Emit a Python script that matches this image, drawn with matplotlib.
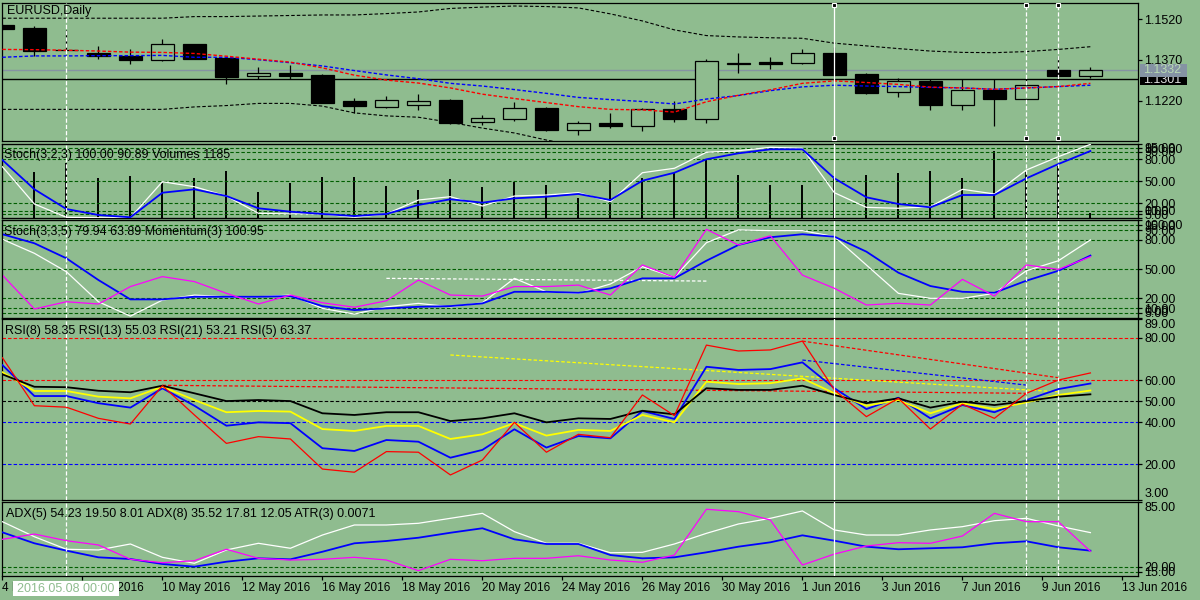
import numpy as np
import matplotlib
matplotlib.use("Agg")
import matplotlib.pyplot as plt
from matplotlib.patches import Rectangle

plt.rcParams['font.family'] = ['Liberation Sans', 'DejaVu Sans']
plt.rcParams['lines.scale_dashes'] = False

BG = '#8fbc8f'
W, H = 1200, 600
DASH = (0, (2.5, 1.5))

# ---- EURUSD daily candles ----
opens = [1.1499, 1.1488, 1.1407, 1.1396, 1.1385, 1.1371, 1.1429, 1.1378, 1.1310, 1.1322,
         1.1315, 1.1219, 1.1198, 1.1205, 1.1223, 1.1140, 1.1151, 1.1193, 1.1111, 1.1138,
         1.1128, 1.1188, 1.1153, 1.1355, 1.1362, 1.1358, 1.1396, 1.1318, 1.1251, 1.1293,
         1.1205, 1.1259, 1.1225, 1.1333, 1.1312]
highs = [1.1503, 1.1495, 1.1481, 1.1422, 1.1409, 1.1447, 1.1430, 1.1379, 1.1343, 1.1350,
         1.1318, 1.1230, 1.1236, 1.1244, 1.1227, 1.1166, 1.1216, 1.1198, 1.1146, 1.1174,
         1.1192, 1.1219, 1.1373, 1.1397, 1.1380, 1.1411, 1.1417, 1.1322, 1.1303, 1.1299,
         1.1299, 1.1299, 1.1299, 1.1385, 1.1344]
lows = [1.1481, 1.1385, 1.1406, 1.1374, 1.1355, 1.1366, 1.1373, 1.1282, 1.1300, 1.1300,
        1.1212, 1.1176, 1.1194, 1.1187, 1.1133, 1.1129, 1.1146, 1.1109, 1.1095, 1.1120,
        1.1109, 1.1143, 1.1137, 1.1323, 1.1337, 1.1354, 1.1306, 1.1244, 1.1233, 1.1186,
        1.1186, 1.1127, 1.1224, 1.1300, 1.1305]
closes = [1.1484, 1.1404, 1.1406, 1.1384, 1.1371, 1.1429, 1.1375, 1.1308, 1.1321, 1.1312,
          1.1213, 1.1202, 1.1223, 1.1219, 1.1139, 1.1156, 1.1193, 1.1113, 1.1137, 1.1128,
          1.1188, 1.1151, 1.1366, 1.1358, 1.1354, 1.1395, 1.1316, 1.1249, 1.1293, 1.1205,
          1.1259, 1.1225, 1.1277, 1.1312, 1.1332]

ma_red = [1.1409, 1.1408, 1.1406, 1.1403, 1.1399, 1.1398, 1.1394, 1.1384, 1.1373, 1.1362,
          1.1341, 1.1314, 1.1296, 1.1285, 1.1267, 1.1244, 1.1228, 1.1213, 1.1198, 1.1188,
          1.1186, 1.1178, 1.1216, 1.1240, 1.1260, 1.1284, 1.1293, 1.1287, 1.1280, 1.1270,
          1.1267, 1.1262, 1.1267, 1.1272, 1.1284]
ma_blue = [1.1380, 1.1385, 1.1385, 1.1386, 1.1386, 1.1387, 1.1380, 1.1380, 1.1371, 1.1360,
           1.1348, 1.1331, 1.1315, 1.1301, 1.1284, 1.1274, 1.1261, 1.1247, 1.1232, 1.1224,
           1.1217, 1.1208, 1.1226, 1.1239, 1.1257, 1.1271, 1.1277, 1.1274, 1.1272, 1.1269,
           1.1267, 1.1262, 1.1267, 1.1272, 1.1277]
band_upper = [1.1524, 1.1524, 1.1524, 1.1524, 1.1524, 1.1524, 1.1530, 1.1530, 1.1532, 1.1534,
              1.1536, 1.1536, 1.1541, 1.1547, 1.1560, 1.1565, 1.1569, 1.1567, 1.1562, 1.1540,
              1.1514, 1.1481, 1.1460, 1.1455, 1.1452, 1.1450, 1.1432, 1.1422, 1.1412, 1.1403,
              1.1398, 1.1397, 1.1401, 1.1409, 1.1419]
# lower band leaves the panel after bar 18 (not visible)
band_lower = [1.1188, 1.1188, 1.1188, 1.1188, 1.1188, 1.1188, 1.1197, 1.1202, 1.1210, 1.1210,
              1.1200, 1.1175, 1.1164, 1.1159, 1.1140, 1.1119, 1.1101, 1.1075, 1.1053] + [np.nan] * 16

ask_price = 1.1332
line_price = 1.1301

volumes = [9000, 9730, 11640, 8460, 8950, 7530, 8590, 10010, 5500, 7410,
           8800, 8800, 6830, 5990, 8250, 6690, 7740, 7050, 4230, 8100,
           8590, 9650, 12550, 9160, 7050, 7050, 8950, 9160, 9650, 10010,
           8460, 14240, 9860, 11130, 1185]

stoch1_main = [69.6, 19.1, 1.1, 0.5, 0.5, 49.3, 42.5, 29.9, 6.5, 5.6,
               5.6, 1.1, 5.6, 24.5, 29.0, 16.4, 29.9, 31.3, 34.4, 22.2,
               61.5, 67.5, 89.2, 91.3, 95.9, 94.6, 34.4, 14.6, 13.3, 15.4,
               39.0, 32.7, 65.2, 83.2, 100.0]
stoch1_signal = [78.7, 39.0, 12.3, 4.2, 1.1, 34.4, 39.0, 29.9, 13.3, 8.7,
                 5.6, 2.8, 5.6, 17.8, 25.5, 20.9, 26.8, 29.0, 32.7, 24.5,
                 50.7, 61.5, 79.7, 87.8, 93.2, 93.2, 53.9, 28.2, 19.1, 14.6,
                 31.3, 31.3, 53.9, 73.3, 90.89]

stoch2_main = [80.6, 66.2, 47.3, 16.5, 1.7, 18.2, 23.3, 21.6, 21.6, 23.3,
               9.7, 3.8, 11.3, 14.8, 11.3, 15.4, 40.5, 26.7, 25.1, 34.7,
               52.5, 41.6, 77.1, 90.2, 89.5, 89.5, 83.3, 54.2, 25.1, 20.0,
               20.0, 25.1, 48.3, 58.6, 79.94]
stoch2_signal = [85.8, 76.5, 61.1, 38.8, 18.9, 18.9, 21.6, 21.6, 21.6, 22.3,
                 12.0, 7.9, 9.7, 11.3, 12.0, 14.8, 26.7, 26.7, 25.7, 30.2,
                 40.5, 40.5, 58.6, 74.8, 82.7, 85.8, 83.3, 67.9, 46.3, 32.6,
                 26.7, 25.7, 38.1, 48.3, 63.89]
momentum = [100.21, 98.85, 99.14, 99.05, 99.75, 100.15, 99.95, 99.48, 99.05, 99.41,
            99.10, 98.92, 99.18, 100.01, 99.41, 99.37, 99.75, 99.75, 99.81, 99.41,
            100.62, 100.12, 102.05, 101.42, 101.79, 100.21, 99.68, 99.01, 99.08, 99.01,
            100.04, 99.37, 100.62, 100.44, 100.95]

rsi8 = [67.1, 52.4, 52.4, 49.0, 46.9, 56.1, 47.8, 38.3, 39.9, 39.5,
        27.6, 26.3, 31.5, 30.7, 23.1, 26.8, 36.6, 27.9, 33.4, 32.3,
        45.3, 41.5, 66.3, 64.8, 65.2, 68.4, 56.1, 46.2, 51.6, 41.8,
        48.1, 44.7, 50.5, 55.7, 58.35]
rsi13 = [63.7, 54.8, 54.8, 52.1, 51.3, 56.8, 50.5, 44.7, 45.3, 45.0,
         36.7, 35.8, 38.2, 38.2, 32.0, 34.2, 39.5, 33.6, 36.3, 35.8,
         43.4, 39.9, 59.2, 58.1, 58.5, 60.8, 53.7, 47.8, 50.5, 44.2,
         49.0, 46.2, 49.4, 52.9, 55.03]
rsi21 = [62.7, 56.8, 56.6, 54.9, 54.2, 57.3, 53.7, 50.0, 50.5, 50.0,
         44.2, 43.4, 44.7, 44.7, 40.5, 41.8, 44.2, 39.9, 41.8, 41.5,
         45.4, 43.7, 56.1, 55.3, 55.3, 57.3, 52.9, 49.0, 51.3, 46.9,
         49.7, 48.1, 50.0, 52.1, 53.21]
rsi5 = [70.6, 47.8, 47.1, 41.8, 39.1, 57.3, 43.4, 29.9, 33.1, 32.0,
        17.7, 16.2, 26.0, 25.7, 14.9, 22.0, 39.9, 25.7, 34.2, 32.6,
        52.9, 43.1, 76.6, 73.8, 74.3, 78.5, 55.3, 42.6, 51.3, 36.7,
        48.5, 41.8, 53.7, 60.0, 63.37]

adx_white = [65.2, 50.1, 37.5, 36.8, 42.8, 29.4, 23.4, 36.8, 43.5, 38.5,
             51.8, 61.9, 61.9, 63.6, 68.6, 73.6, 55.2, 43.5, 43.5, 34.0,
             34.4, 42.8, 53.5, 62.9, 68.6, 76.0, 56.9, 51.8, 51.8, 56.9,
             60.2, 66.2, 68.6, 60.9, 54.23]
adx_blue = [54.5, 43.5, 36.1, 29.4, 27.7, 22.7, 20.0, 25.0, 28.4, 27.4,
            35.0, 43.5, 45.8, 49.1, 54.1, 58.6, 47.5, 42.8, 42.8, 31.7,
            28.4, 29.4, 34.4, 40.1, 44.5, 51.5, 46.1, 40.1, 37.5, 38.5,
            39.5, 43.5, 45.5, 39.5, 36.1]
adx_magenta = [47.5, 52.8, 46.1, 41.8, 27.4, 24.0, 26.0, 37.5, 28.4, 26.7,
               27.4, 29.4, 26.7, 16.0, 27.4, 26.0, 28.4, 28.4, 31.0, 26.7,
               24.4, 31.7, 77.7, 75.3, 66.9, 21.7, 32.7, 40.8, 44.1, 43.5,
               50.8, 73.6, 65.2, 65.2, 35.52]

# trend line objects: (bar, value) pairs
stoch_trend = ([12, 22], [40.5, 37.7])
rsi_trends = [(([5, 32], [57.5, 53.7]), '#ff0000'),
              (([14, 33], [71.9, 54.4]), '#ffff00'),
              (([25, 33], [78.5, 61.1]), '#ff0000'),
              (([25, 32], [69.5, 57.6]), '#0000ff')]
vlines_dashed = [2, 32, 33]
vlines_solid = [26]
marker_bars = [26, 32, 33]

date_labels = ['4 May 2016', '6 May 2016', '10 May 2016', '12 May 2016', '16 May 2016',
               '18 May 2016', '20 May 2016', '24 May 2016', '26 May 2016', '30 May 2016',
               '1 Jun 2016', '3 Jun 2016', '7 Jun 2016', '9 Jun 2016', '13 Jun 2016']
cursor_label = '2016.05.08 00:00'

n = len(closes)
x = np.arange(n)

fig = plt.figure(figsize=(12, 6), dpi=100, facecolor=BG)


def right_ticks(ax, yticks, fmt):
    ax.yaxis.tick_right()
    ax.set_yticks(yticks)
    ax.set_yticklabels([fmt % v for v in yticks])
    ax.tick_params(axis='y', direction='out', length=3, width=0.9, pad=1.5,
                   labelsize=9, colors='black', left=False, labelleft=False,
                   right=True, labelright=True)


def panel(top, bottom, ylim, yticks, fmt):
    ax = fig.add_axes([2 / W, 1 - bottom / H, 1136 / W, (bottom - top) / H])
    ax.set_facecolor(BG)
    ax.set_xlim(-0.0125, 35.4875)
    ax.set_ylim(*ylim)
    for s in ax.spines.values():
        s.set_color('black')
        s.set_linewidth(0.9)
    right_ticks(ax, yticks, fmt)
    ax.set_xticks([])
    return ax


def clamp_labels(ax, top_val=None, bottom_val=None):
    for t, v in zip(ax.yaxis.get_major_ticks(), ax.get_yticks()):
        if top_val is not None and v == top_val:
            t.label2.set_va('top')
        if bottom_val is not None and v == bottom_val:
            t.label2.set_va('bottom')


def levels(ax, vals, color):
    for lv in vals:
        ax.axhline(lv, color=color, lw=0.8, ls=DASH, zorder=1)


def twin(ax, ylim):
    t = ax.twinx()
    t.set_ylim(*ylim)
    t.set_yticks([])
    t.tick_params(right=False, labelright=False, left=False, labelleft=False)
    return t


# ---- price panel ----
ax1 = panel(2.7, 140.7, (1.10725, 1.15812), [1.1520, 1.1370, 1.1220], '%.4f')
ax1.plot(x, band_upper, color='black', lw=0.8, ls=DASH, zorder=2)
ax1.plot(x, band_lower, color='black', lw=0.8, ls=DASH, zorder=2)
ax1.axhline(ask_price, color='#8593a3', lw=1, zorder=1.5)
ax1.axhline(line_price, color='black', lw=1, zorder=1.5)
o = np.array(opens); c = np.array(closes)
bull = c >= o
ax1.vlines(x, lows, highs, color='black', lw=0.9, zorder=3)
ax1.bar(x, np.maximum(np.abs(c - o), 0.00004), bottom=np.minimum(o, c), width=0.72,
        color=[BG if b else 'black' for b in bull], edgecolor='black', linewidth=0.9, zorder=4)
ax1.plot(x, ma_blue, color='#0000ff', lw=1, ls=DASH, zorder=5)
ax1.plot(x, ma_red, color='#ff0000', lw=1, ls=DASH, zorder=5)
for yf in (0.983, 0.02):
    ax1.plot(marker_bars, [yf] * len(marker_bars), ls='none', marker='s', ms=3.5,
             mfc='black', mec='white', mew=0.8, transform=ax1.get_xaxis_transform(),
             clip_on=False, zorder=8)
ytr = ax1.get_yaxis_transform()
ax1.add_patch(Rectangle((1.0018, line_price - 0.00247), 0.0411, 0.00494, transform=ytr,
                        fc='black', ec='none', clip_on=False, zorder=9))
ax1.text(1.0045, line_price - 0.0005, '%.4f' % line_price, transform=ytr, va='center',
         ha='left', fontsize=9, color='#e0e0e0', clip_on=False, zorder=9.5)
ax1.add_patch(Rectangle((1.0018, ask_price - 0.00247), 0.0411, 0.00494, transform=ytr,
                        fc='#8593a3', ec='none', clip_on=False, zorder=10))
ax1.text(1.0045, ask_price, '%.4f' % ask_price, transform=ytr, va='center',
         ha='left', fontsize=9, color='#b8dab2', clip_on=False, zorder=10.5)

# ---- Stoch(3,2,3) + volumes ----
stoch_levels = [95, 90, 80, 50, 20, 10, 5]
stoch_ticks = [100, 95, 90, 80, 50, 20, 10, 5, 0]
ax2 = panel(144.3, 218.1, (0, 100), stoch_ticks, '%.2f')
axv = twin(ax2, (0, 15640))
right_ticks(ax2, stoch_ticks, '%.2f')
clamp_labels(ax2, 100, 0)
levels(ax2, stoch_levels, '#005e00')
ax2.set_zorder(2)
axv.set_zorder(1)
ax2.patch.set_visible(False)
axv.patch.set_visible(True)
axv.patch.set_facecolor(BG)
axv.vlines(x, 0, volumes, color='black', lw=1.4)
ax2.plot(x, stoch1_main, color='white', lw=0.9, zorder=3)
ax2.plot(x, stoch1_signal, color='#0000ff', lw=1.3, zorder=3)

# ---- Stoch(3,3,5) + momentum ----
ax3 = panel(220.4, 317.8, (0, 100), stoch_ticks, '%.2f')
axm = twin(ax3, (98.496, 102.408))
right_ticks(ax3, stoch_ticks, '%.2f')
clamp_labels(ax3, 100, 0)
levels(ax3, stoch_levels, '#005e00')
ax3.plot(*stoch_trend, color='white', lw=0.9, ls=DASH, zorder=2)
ax3.plot(x, stoch2_main, color='white', lw=0.9, zorder=3)
ax3.plot(x, stoch2_signal, color='#0000ff', lw=1.3, zorder=3)
axm.plot(x, momentum, color='#ff00ff', lw=0.9)

# ---- RSI panel ----
ax4 = panel(319, 500, (3, 89), [89, 80, 60, 50, 40, 20, 3], '%.2f')
clamp_labels(ax4, 89, 3)
levels(ax4, [80, 60], '#ff0000')
levels(ax4, [50], 'black')
levels(ax4, [40, 20], '#0000ff')
for (tx, ty), col in rsi_trends:
    ax4.plot(tx, ty, color=col, lw=0.9, ls=DASH, zorder=2)
ax4.plot(x, rsi8, color='#0000ff', lw=1.3, zorder=3)
ax4.plot(x, rsi13, color='#ffff00', lw=1.3, zorder=3)
ax4.plot(x, rsi21, color='black', lw=1.3, zorder=3)
ax4.plot(x, rsi5, color='#ff0000', lw=0.9, zorder=3)

# ---- ADX panel ----
ax5 = panel(502, 576, (10.63, 85), [85, 20, 15], '%.2f')
clamp_labels(ax5, 85)
levels(ax5, [20, 15], '#005e00')
ax5.plot(x, adx_white, color='white', lw=0.9, zorder=3)
ax5.plot(x, adx_blue, color='#0000ff', lw=1.3, zorder=3)
ax5.plot(x, adx_magenta, color='#ff00ff', lw=0.9, zorder=3)
ax5.set_xticks(np.arange(len(date_labels)) * 2.5)
ax5.set_xticklabels(date_labels)
ax5.tick_params(axis='x', direction='out', length=3, width=0.9, pad=1.5,
                labelsize=8.5, colors='black')
plt.setp(ax5.get_xticklabels(), ha='left')

for ax in (ax1, ax2, ax3, ax4, ax5):
    for b in vlines_dashed:
        ax.axvline(b, color='white', lw=0.9, ls=(0, (3, 1.5)), zorder=7)
    for b in vlines_solid:
        ax.axvline(b, color='white', lw=0.9, zorder=7)

titles = [(7, 11.3, 'EURUSD,Daily'),
          (4, 155, 'Stoch(3,2,3) 100.00 90.89 Volumes 1185'),
          (4, 232, 'Stoch(3,3,5) 79.94 63.89 Momentum(3) 100.95'),
          (5, 331, 'RSI(8) 58.35 RSI(13) 55.03 RSI(21) 53.21 RSI(5) 63.37'),
          (6, 513.5, 'ADX(5) 54.23 19.50 8.01 ADX(8) 35.52 17.81 12.05 ATR(3) 0.0071')]
for tx, ty, s in titles:
    fig.text(tx / W, 1 - ty / H, s, va='center', ha='left', fontsize=9, color='black', zorder=6)

fig.add_artist(Rectangle((13.4 / W, 1 - 596 / H), 106 / W, 15.3 / H, transform=fig.transFigure,
                         fc='white', ec='none', zorder=5))
fig.text(17 / W, 1 - 588.5 / H, cursor_label, va='center', ha='left', fontsize=9,
         color='#8fbc8f', zorder=6)

fig.savefig('out.png', dpi=100, facecolor=BG)
